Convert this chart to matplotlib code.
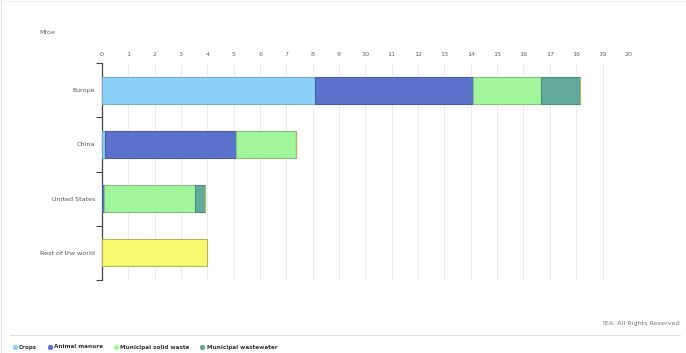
import matplotlib
matplotlib.use("Agg")
import matplotlib.pyplot as plt
from matplotlib.lines import Line2D
import numpy as np

regions = ["Europe", "China", "United States", "Rest of the world"]
series_names = ["Crops", "Animal manure", "Municipal solid waste", "Municipal wastewater", "Other"]
crops = [8.08, 0.12, 0.0, 0.0]
animal_manure = [6.02, 4.98, 0.06, 0.0]
msw = [2.55, 2.25, 3.47, 0.0]
wastewater = [1.5, 0.0, 0.37, 0.0]
other = [0.0, 0.0, 0.0, 4.0]
x_ticks = list(range(0, 21))

colors = ["#8bd1fa", "#5b72cc", "#a1f59b", "#62aa9c", "#f8f86e"]
edges = ["#7aa9c8", "#4a5c9c", "#86c282", "#4f8a7e", "#b6b657"]

fig = plt.figure(figsize=(6.86, 3.53), dpi=100)
ax = fig.add_axes([0.1487, 0.2068, 0.768, 0.6147])

y = np.arange(len(regions))
left = np.zeros(len(regions))
for vals, c, ec in zip([crops, animal_manure, msw, wastewater, other], colors, edges):
    v = np.array(vals)
    ax.barh(y, v, left=left, height=0.5, color=c, edgecolor=ec, linewidth=0.8, zorder=3)
    left += v

ax.set_xlim(0, 20)
ax.set_ylim(3.5, -0.5)
ax.set_xticks(x_ticks)
ax.set_xticklabels([str(t) for t in x_ticks], fontsize=4.6, color="#666666")
ax.xaxis.tick_top()
ax.tick_params(axis="x", length=0, pad=4.5)
ax.set_yticks(y)
ax.set_yticklabels(regions, fontsize=4.6, color="#555555")
ax.tick_params(axis="y", length=0, pad=5)
ax.set_yticks([-0.5, 0.5, 1.5, 2.5, 3.5], minor=True)
ax.tick_params(axis="y", which="minor", length=4, color="#444444", width=0.8)
ax.grid(axis="x", color="#ececec", linewidth=0.7, zorder=0)
for s in ["top", "right", "bottom"]:
    ax.spines[s].set_visible(False)
ax.spines["left"].set_color("#444444")
ax.spines["left"].set_linewidth(0.9)

fig.text(47 / 686, 1 - 33 / 353, "Mtoe", fontsize=4.6, color="#666666", ha="center", va="center")
fig.text(680 / 686, 1 - 323 / 353, "IEA. All Rights Reserved", fontsize=4.6, color="#777777", ha="right", va="center")
fig.add_artist(Line2D([10 / 686, 680 / 686], [1 - 335 / 353] * 2, color="#dddddd", linewidth=0.7))
fig.add_artist(Line2D([1 / 686, 1 / 686], [0, 1], color="#e4e4e4", linewidth=0.8))
fig.add_artist(Line2D([0, 1], [1 - 1 / 353] * 2, color="#eeeeee", linewidth=0.8))

handles = [Line2D([], [], marker="o", linestyle="", markersize=2.8, color=c) for c in colors[:4]]
fig.legend(handles, series_names[:4], loc="center left", bbox_to_anchor=(6 / 686, 1 - 347 / 353),
           ncol=4, frameon=False, prop={"size": 4.1, "weight": "semibold"}, handletextpad=0.2,
           columnspacing=1.6, handlelength=1.2, labelcolor="#333333")

fig.savefig("out.png", dpi=100)
